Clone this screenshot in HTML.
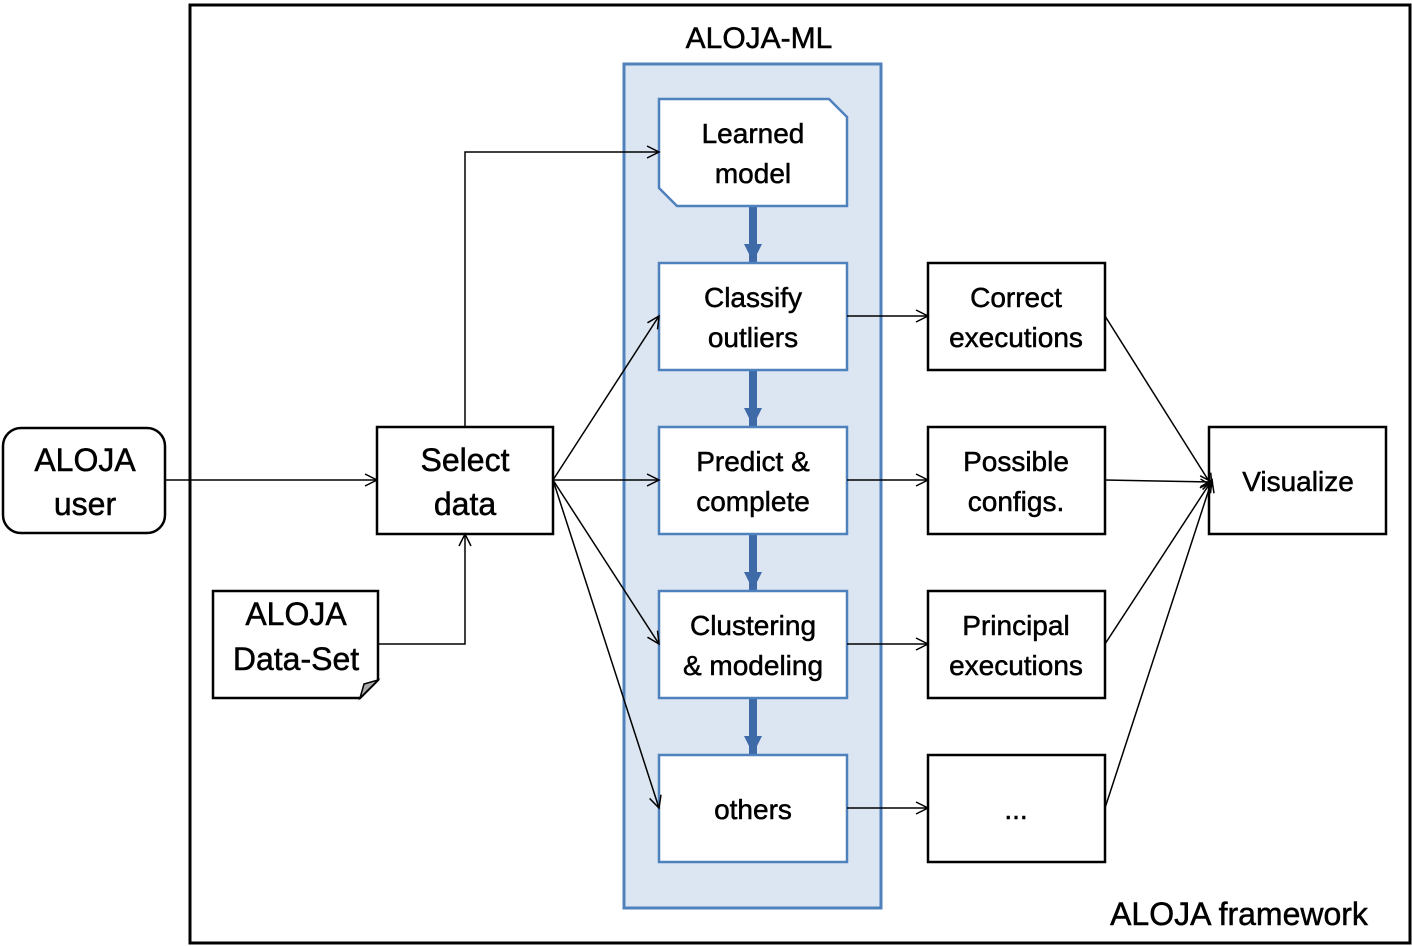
<!DOCTYPE html>
<html><head><style>
html,body{margin:0;padding:0;background:#fff;}
svg{display:block;}
text{font-family:"Liberation Sans",sans-serif;fill:#000;text-anchor:middle;stroke:#000;stroke-width:0.5;}
</style></head><body>
<svg width="1412" height="946" viewBox="0 0 1412 946" xmlns="http://www.w3.org/2000/svg">
<defs>
<marker id="a" markerWidth="16" markerHeight="16" refX="14" refY="8" orient="auto" markerUnits="userSpaceOnUse">
<path d="M2,2 L14,8 L2,14" fill="none" stroke="#000" stroke-width="1.5"/>
</marker>
</defs>
<rect x="190" y="5" width="1220" height="938" fill="#fff" stroke="#000" stroke-width="3"/>
<rect x="624" y="64" width="257" height="844" fill="#dce6f2" stroke="#4f81bd" stroke-width="3"/>
<text x="759" y="48" font-size="30">ALOJA-ML</text>
<text x="1239" y="925" font-size="32">ALOJA framework</text>

<g fill="#3e6aa8">
<rect x="749" y="206" width="8" height="57"/><path d="M744,244 L762,244 L753,262 Z"/>
<rect x="749" y="370" width="8" height="57"/><path d="M744,408 L762,408 L753,426 Z"/>
<rect x="749" y="534" width="8" height="57"/><path d="M744,572 L762,572 L753,590 Z"/>
<rect x="749" y="698" width="8" height="57"/><path d="M744,736 L762,736 L753,754 Z"/>
</g>

<g fill="#fff" stroke="#4f81bd" stroke-width="2.5">
<path d="M659,99 L829,99 L847,117 L847,206 L677,206 L659,188 Z"/>
<rect x="659" y="263" width="188" height="107"/>
<rect x="659" y="427" width="188" height="107"/>
<rect x="659" y="591" width="188" height="107"/>
<rect x="659" y="755" width="188" height="107"/>
</g>
<g fill="#fff" stroke="#000" stroke-width="2.5">
<rect x="928" y="263" width="177" height="107"/>
<rect x="928" y="427" width="177" height="107"/>
<rect x="928" y="591" width="177" height="107"/>
<rect x="928" y="755" width="177" height="107"/>
<rect x="1209" y="427" width="177" height="107"/>
<rect x="377" y="427" width="176" height="107"/>
<rect x="3" y="428" width="162" height="105" rx="18"/>
<path d="M213,591 L378,591 L378,680 L360,698 L213,698 Z"/>
</g>
<path d="M360,698 L364,684 L378,680 Z" fill="#aaa" stroke="#000" stroke-width="1.5"/>

<g fill="none" stroke="#000" stroke-width="1.5" marker-end="url(#a)">
<path d="M165,480 L377,480"/>
<path d="M465,427 L465,152 L659,152"/>
<path d="M378,644 L465,644 L465,534"/>
<path d="M553,480 L659,316"/>
<path d="M553,480 L659,480"/>
<path d="M553,480 L659,644"/>
<path d="M553,480 L659,808"/>
<path d="M847,316 L928,316"/>
<path d="M847,480 L928,480"/>
<path d="M847,644 L928,644"/>
<path d="M847,808 L928,808"/>
<path d="M1105,316 L1212,486"/>
<path d="M1105,480 L1212,482"/>
<path d="M1105,644 L1212,480"/>
<path d="M1105,808 L1212,480"/>
</g>

<g font-size="28">
<text x="753" y="143">Learned</text><text x="753" y="183">model</text>
<text x="753" y="307">Classify</text><text x="753" y="347">outliers</text>
<text x="753" y="471">Predict &amp;</text><text x="753" y="511">complete</text>
<text x="753" y="635">Clustering</text><text x="753" y="675">&amp; modeling</text>
<text x="753" y="819">others</text>
<text x="1016" y="307">Correct</text><text x="1016" y="347">executions</text>
<text x="1016" y="471">Possible</text><text x="1016" y="511">configs.</text>
<text x="1016" y="635">Principal</text><text x="1016" y="675">executions</text>
<text x="1016" y="819">...</text>
<text x="1298" y="491">Visualize</text>
</g>
<g font-size="32">
<text x="465" y="471">Select</text><text x="465" y="515">data</text>
<text x="85" y="471">ALOJA</text><text x="85" y="515">user</text>
<text x="296" y="625">ALOJA</text><text x="296" y="670">Data-Set</text>
</g>
</svg>
</body></html>
